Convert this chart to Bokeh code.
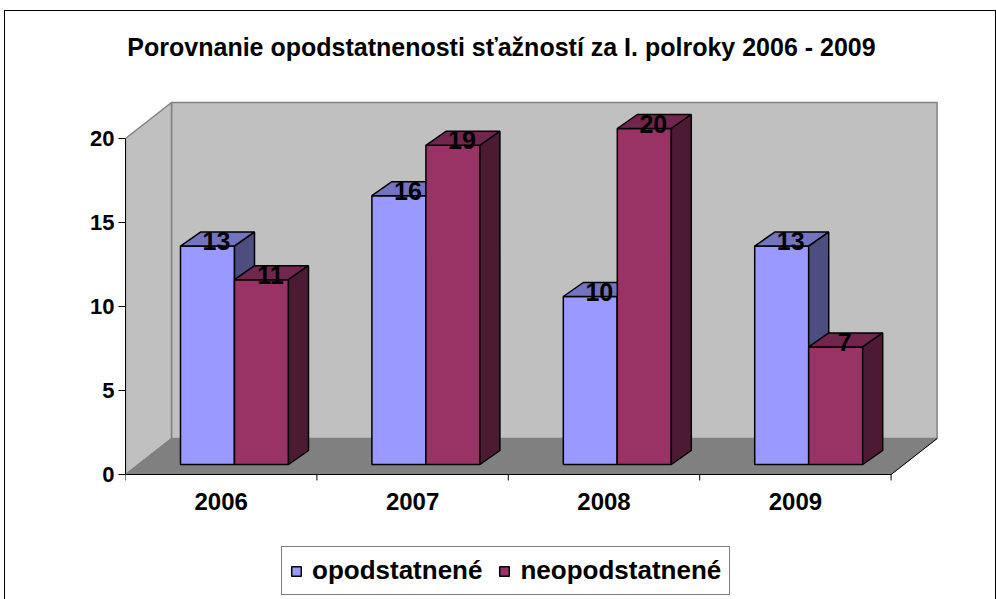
from bokeh.plotting import figure
from bokeh.models import (Range1d, LinearAxis, FixedTicker, Legend, LegendItem, Label,
                          ColumnDataSource)
from bokeh.embed import file_html
from bokeh.resources import INLINE

# ---------------- data ----------------
categories = ["2006", "2007", "2008", "2009"]
opodstatnene = [13, 16, 10, 13]
neopodstatnene = [11, 19, 20, 7]
series_names = ["opodstatnené", "neopodstatnené"]
y_ticks = [0, 5, 10, 15, 20]
y_max = 20
title_text = "Porovnanie opodstatnenosti sťažností za I. polroky 2006 - 2009"

# ---------------- layout constants (pixels) ----------------
W, H = 996, 599
FRAME_LEFT = 125          # px of the y axis
ZERO_Y = 474              # px (from top) of the floor front edge
CAT_PX = 191.4            # pixels per category
VAL_PX = 16.8             # pixels per value unit
WALL_DX, WALL_DY = 46, 36
BAR_SHIFT_DY = 10
BAR_OFF = 55
BAR_W = 54
BAR_DX, BAR_DY = 20, 14
FONT = "Liberation Sans"

frame_w = W - FRAME_LEFT
px = 1.0 / CAT_PX
py = 1.0 / VAL_PX

p = figure(width=W, height=H, output_backend="svg", toolbar_location=None,
           x_axis_type=None, y_axis_type=None,
           x_range=Range1d(0, frame_w / CAT_PX),
           y_range=Range1d(-(H - ZERO_Y) / VAL_PX, ZERO_Y / VAL_PX),
           min_border_left=FRAME_LEFT, min_border_right=0, min_border_top=0,
           min_border_bottom=0)
p.outline_line_color = None
p.grid.visible = False
p.background_fill_alpha = 0
p.border_fill_alpha = 0

n = len(categories)
wdx, wdy = WALL_DX * px, WALL_DY * py

# walls and floor
p.patch([wdx, n + wdx, n + wdx, wdx], [wdy, wdy, y_max + wdy, y_max + wdy],
        fill_color="#C0C0C0", line_color="#808080", line_width=1.5)
p.patch([0, wdx, wdx, 0], [0, wdy, y_max + wdy, y_max],
        fill_color="#C0C0C0", line_color="#808080", line_width=1.5)
p.patch([0, n, n + wdx, wdx], [0, 0, wdy, wdy],
        fill_color="#808080", line_color="#808080", line_width=1)
p.line([n, n + wdx], [0, wdy], line_color="#000000", line_width=1)

front_colors = ["#9999FF", "#993366"]
top_colors = ["#7373C0", "#73264D"]
side_colors = ["#4D4D80", "#4D1A33"]
series_vals = [opodstatnene, neopodstatnene]

base = BAR_SHIFT_DY * py
bdx, bdy = BAR_DX * px, BAR_DY * py
front_renderers = []
label_x, label_y, label_t = [], [], []
for s, vals in enumerate(series_vals):
    left = [i + (BAR_OFF + s * BAR_W) * px for i in range(n)]
    right = [l + BAR_W * px for l in left]
    top = [v + base for v in vals]
    r = p.quad(left=left, right=right, bottom=[base] * n, top=top,
               fill_color=front_colors[s], line_color="black", line_width=1.5)
    front_renderers.append(r)
    p.patches([[l, rr, rr + bdx, l + bdx] for l, rr in zip(left, right)],
              [[t, t, t + bdy, t + bdy] for t in top],
              fill_color=top_colors[s], line_color="black", line_width=1.5)
    p.patches([[rr, rr + bdx, rr + bdx, rr] for rr in right],
              [[base, base + bdy, t + bdy, t] for t in top],
              fill_color=side_colors[s], line_color="black", line_width=1.5)
    label_x += [(l + rr) / 2 + 9 * px for l, rr in zip(left, right)]
    label_y += [t + 5 * py for t in top]
    label_t += [str(v) for v in vals]

p.text(x="x", y="y", text="t", source=ColumnDataSource(dict(x=label_x, y=label_y, t=label_t)),
       text_align="center", text_baseline="alphabetic", text_font_size="25px",
       text_font_style="bold", text_color="black", text_font={"value": FONT})

# y axis
yaxis = LinearAxis(ticker=FixedTicker(ticks=y_ticks, minor_ticks=[]), bounds=(0, y_max),
                   axis_line_color="black", axis_line_width=1,
                   major_tick_in=0, major_tick_out=7, major_tick_line_color="black",
                   minor_tick_line_color=None, major_label_standoff=4,
                   major_label_text_font=FONT, major_label_text_font_size="22px",
                   major_label_text_font_style="bold", major_label_text_color="black")
p.add_layout(yaxis, "left")

# category axis (line, ticks between categories, labels at centres)
p.line([0, n], [0, 0], line_color="black", line_width=1)
p.segment(x0=list(range(n + 1)), y0=[0] * (n + 1), x1=list(range(n + 1)),
          y1=[-6 * py] * (n + 1), line_color="black", line_width=1)
p.text(x=[i + 0.5 for i in range(n)], y=[-26.5 * py] * n, text=categories,
       text_align="center", text_baseline="middle", text_font_size="24px",
       text_font_style="bold", text_color="black", text_font={"value": FONT})

# title
p.add_layout(Label(x=(501 - FRAME_LEFT) * px, y=(ZERO_Y - 46) * py, text=title_text,
                   text_align="center", text_baseline="middle", text_font=FONT,
                   text_font_size="25px", text_font_style="bold", text_color="black"))

legend = Legend(items=[LegendItem(label=series_names[i], renderers=[front_renderers[i]])
                       for i in range(2)],
                orientation="horizontal", location=(156, 4), margin=0,
                glyph_width=12, glyph_height=12, label_standoff=10, spacing=16,
                padding=8, label_text_font=FONT, label_text_font_size="26px",
                label_text_font_style="bold", label_text_color="black",
                border_line_color="black", border_line_width=1,
                background_fill_color="white", background_fill_alpha=1)
p.add_layout(legend)

p.styles = {"background": ("linear-gradient(#000,#000) 4px 10px / 1px 600px no-repeat, "
                           "linear-gradient(#000,#000) 4px 10px / 992px 1px no-repeat, "
                           "linear-gradient(#000,#000) 995px 10px / 1px 600px no-repeat, "
                           "#ffffff")}

open("out.html", "w").write(file_html(p, INLINE))
